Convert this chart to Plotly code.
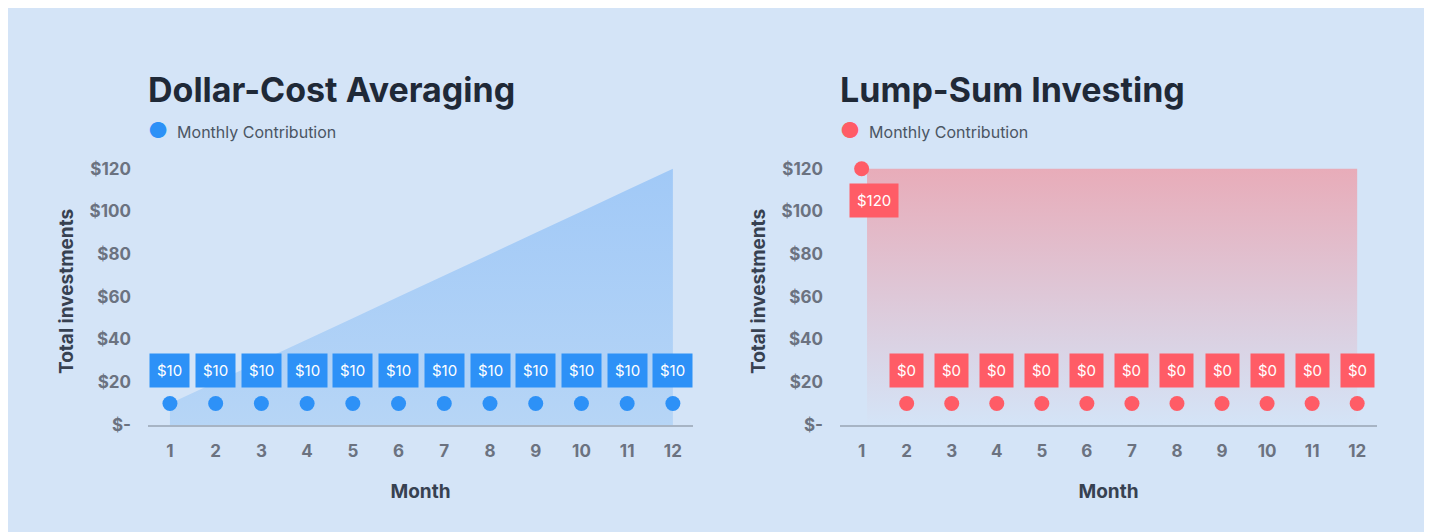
import plotly.graph_objects as go

months = list(range(1, 13))
dca_contrib = [10] * 12
dca_total = [10, 20, 30, 40, 50, 60, 70, 80, 90, 100, 110, 120]
lump_contrib = [120] + [0] * 11
lump_dot_y = [120] + [10] * 11   # where the dots sit in the picture
lump_total = [120] * 12
y_ticks = [0, 20, 40, 60, 80, 100, 120]
y_labels = ["$-", "$20", "$40", "$60", "$80", "$100", "$120"]

BG = "#D4E4F7"
BLUE = "#2D91F7"
RED = "#FF5C66"
GRAY = "#6B7280"
DARK = "#1F2937"
FONT = "Inter, Roboto, sans-serif"

# page has an 8px body margin; work in reference pixels and shift
W, H, OFF = 1424, 524, 8


def px(x):
    return (x - OFF) / W


def py(y):
    return 1 - (y - OFF) / H


fig = go.Figure()

# areas
fig.add_trace(go.Scatter(x=months, y=dca_total, fill="tozeroy", mode="none",
                         fillgradient=dict(type="vertical",
                                           colorscale=[[0, "#B6D5F6"], [1, "#A1C9F7"]]),
                         xaxis="x", yaxis="y", hoverinfo="skip"))
fig.add_trace(go.Scatter(x=[1.12] + months[1:], y=lump_total, fill="tozeroy", mode="none",
                         fillgradient=dict(type="vertical",
                                           colorscale=[[0, "rgba(212,228,247,1)"], [1, "rgba(232,172,185,1)"]]),
                         xaxis="x2", yaxis="y2", hoverinfo="skip"))

# dots
fig.add_trace(go.Scatter(x=months, y=dca_contrib, mode="markers",
                         marker=dict(color=BLUE, size=15), xaxis="x", yaxis="y"))
fig.add_trace(go.Scatter(x=months, y=lump_dot_y, mode="markers",
                         marker=dict(color=RED, size=15), xaxis="x2", yaxis="y2"))

lab_font = dict(color="white", size=15, family=FONT)
ann = []
for m, v in zip(months, dca_contrib):
    ann.append(dict(x=m, y=25.5, xref="x", yref="y", text=f"${v}", showarrow=False,
                    bgcolor=BLUE, borderpad=7, font=lab_font))
for m, v in zip(months, lump_contrib):
    if v == 120:
        ann.append(dict(x=1, y=105, xref="x2", yref="y2", text=f"${v}", showarrow=False,
                        xanchor="left", xshift=-13, bgcolor=RED, borderpad=7, font=lab_font))
    else:
        ann.append(dict(x=m, y=25.5, xref="x2", yref="y2", text=f"${v}", showarrow=False,
                        bgcolor=RED, borderpad=7, font=lab_font))

for x0, title, col in [(146, "Dollar-Cost Averaging", BLUE), (838, "Lump-Sum Investing", RED)]:
    ann.append(dict(x=px(x0), y=py(68), xref="paper", yref="paper", xanchor="left",
                    text=f"<b>{title}</b>", showarrow=False,
                    font=dict(size=34, color=DARK, family=FONT)))
    ann.append(dict(x=px(x0), y=py(117), xref="paper", yref="paper", xanchor="left",
                    text=f"<span style='color:{col};font-size:22px'>●</span>  Monthly Contribution",
                    showarrow=False, font=dict(size=16, color="#4B5563", family=FONT)))

fig.update_layout(annotations=ann)

axis_x = dict(range=[0.52, 12.44], tickvals=months, showgrid=False, zeroline=False,
              showline=True, linecolor="#A7B4C4", linewidth=2, ticks="", ticklabelstandoff=10,
              tickfont=dict(size=17, color=GRAY, family=FONT, weight="bold"),
              title=dict(text="<b>Month</b>", font=dict(size=19, color="#374151", family=FONT), standoff=24))
axis_y = dict(range=[0, 125], tickvals=y_ticks, ticktext=y_labels, showgrid=False, zeroline=False,
              domain=[py(433), py(161)], ticks="", ticklabelstandoff=16,
              tickfont=dict(size=17, color=GRAY, family=FONT, weight="bold"),
              title=dict(text="<b>Total investments</b>", font=dict(size=19, color="#374151", family=FONT),
                         standoff=10))

fig.update_layout(
    xaxis=dict(axis_x, domain=[px(148), px(693)], anchor="y"),
    yaxis=dict(axis_y, anchor="x"),
    xaxis2=dict(axis_x, domain=[px(840), px(1377)], anchor="y2"),
    yaxis2=dict(axis_y, anchor="x2"),
    width=W, height=H,
    margin=dict(l=0, r=0, t=0, b=0),
    paper_bgcolor=BG, plot_bgcolor=BG,
    showlegend=False,
    font=dict(family=FONT),
)

fig.write_html("out.html")
